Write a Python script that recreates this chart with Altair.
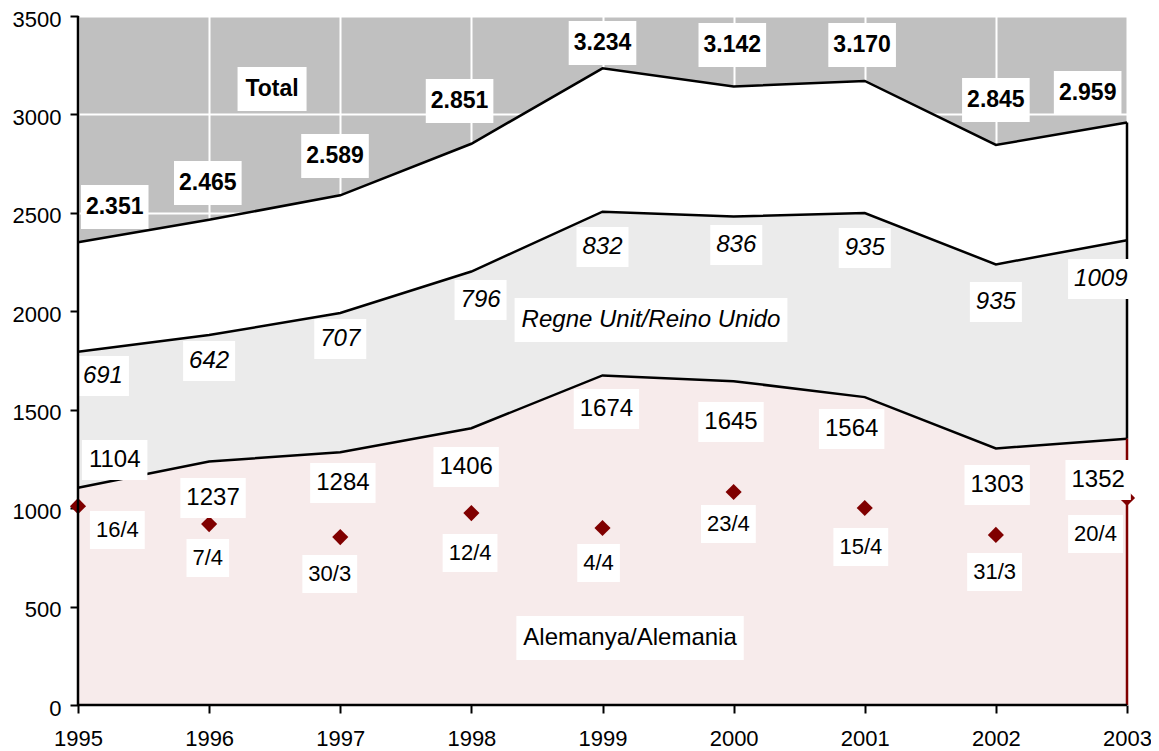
import altair as alt
import pandas as pd

# ---------------- data ----------------
years = [1995, 1996, 1997, 1998, 1999, 2000, 2001, 2002, 2003]
germany = [1104, 1237, 1284, 1406, 1674, 1645, 1564, 1303, 1352]
uk = [691, 642, 707, 796, 832, 836, 935, 935, 1009]
total = [2351, 2465, 2589, 2851, 3234, 3142, 3170, 2845, 2959]
easter_dates = ["16/4", "7/4", "30/3", "12/4", "4/4", "23/4", "15/4", "31/3", "20/4"]
easter_marker = [1010, 919, 853, 975, 899, 1082, 1001, 864, 1052]

total_text = ["2.351", "2.465", "2.589", "2.851", "3.234", "3.142", "3.170", "2.845", "2.959"]

# label anchors (data coordinates: fractional year, value)
total_lab_x = [1995.28, 1995.99, 1996.96, 1997.91, 1999.0, 1999.99, 2000.98, 2002.0, 2002.70]
total_lab_y = [2530, 2652, 2789, 3068, 3363, 3353, 3353, 3073, 3109]
uk_lab_x = [1995.19, 1996.0, 1997.0, 1998.07, 1999.0, 2000.02, 2001.0, 2002.0, 2002.80]
uk_lab_y = [1671, 1747, 1859, 2057, 2327, 2337, 2321, 2047, 2164]
de_lab_x = [1995.28, 1996.03, 1997.02, 1997.96, 1999.03, 1999.98, 2000.90, 2002.01, 2002.78]
de_lab_y = [1245, 1052, 1128, 1209, 1504, 1438, 1402, 1118, 1143]
date_lab_x = [1995.30, 1995.99, 1996.92, 1997.99, 1998.97, 1999.96, 2000.97, 2001.99, 2002.76]
date_lab_y = [889, 747, 665, 772, 721, 919, 803, 676, 869]
series_names = ["Total", "Regne Unit/Reino Unido", "Alemanya/Alemania"]
series_lab_x = [1996.48, 1999.37, 1999.21]
series_lab_y = [3129, 1956, 340]

FONT = "Liberation Sans"

# ------------- helpers for white label boxes -------------
REG = {c: 0.556 for c in "0123456789"}
REG.update({".": 0.278, "/": 0.278, " ": 0.278, "A": 0.667, "R": 0.722, "U": 0.722,
            "T": 0.611, "a": 0.556, "d": 0.556, "e": 0.556, "g": 0.556, "i": 0.222,
            "l": 0.222, "m": 0.833, "n": 0.556, "o": 0.556, "t": 0.278, "y": 0.5})
BOLD = dict(REG)
BOLD.update({"o": 0.611, "t": 0.333, "l": 0.278})


def text_width(s, size, bold=False):
    tbl = BOLD if bold else REG
    return sum(tbl.get(c, 0.556) for c in s) * size


def box_path(s, size, bold=False, pad=6, h=40):
    w = text_width(s, size, bold) / 2 + pad
    hh = h / 2
    return f"M{-w:.1f},{-hh:.1f}H{w:.1f}V{hh:.1f}H{-w:.1f}Z"


rows = []
for t, x, y in zip(total_text, total_lab_x, total_lab_y):
    rows.append(dict(text=t, x=x, y=y, grp="total", box=box_path(t, 23, True, 5, 44)))
for t, x, y in zip(uk, uk_lab_x, uk_lab_y):
    rows.append(dict(text=str(t), x=x, y=y, grp="uk", box=box_path(str(t), 24, False, 6, 40)))
for t, x, y in zip(germany, de_lab_x, de_lab_y):
    rows.append(dict(text=str(t), x=x, y=y, grp="de", box=box_path(str(t), 24, False, 6, 40)))
for t, x, y in zip(easter_dates, date_lab_x, date_lab_y):
    rows.append(dict(text=t, x=x, y=y, grp="date", box=box_path(t, 22, False, 6, 38)))
grp_names = ["total", "uk", "de"]
for i, (t, x, y) in enumerate(zip(series_names, series_lab_x, series_lab_y)):
    rows.append(dict(text=t, x=x, y=y, grp=grp_names[i],
                     box=box_path(t, 23 if i == 0 else 24, i == 0, 7, 44)))
labels = pd.DataFrame(rows)

df = pd.DataFrame({"year": years, "germany": germany, "uk": uk, "total": total,
                   "easter": easter_marker})
df["uk_top"] = df["germany"] + df["uk"]
df["zero"] = 0

# ---------------- encodings ----------------
xs = alt.Scale(domain=[1995, 2003], nice=False, zero=False)
ys = alt.Scale(domain=[0, 3500], nice=False)
x_axis = alt.Axis(values=years, format="d", title=None, domain=False, grid=True,
                  labelPadding=15, labelFlush=False)
y_axis = alt.Axis(values=list(range(0, 3501, 500)), format="d", title=None, domain=False,
                  grid=True, labelPadding=9, labelFlush=False, labelOffset=3)


def X(field):
    return alt.X(field, type="quantitative", scale=xs, axis=x_axis, title=None)


def Y(field):
    return alt.Y(field, type="quantitative", scale=ys, axis=y_axis, title=None)


base = alt.Chart(df)

area_total = base.mark_area(color="white", opacity=1).encode(x=X("year"), y=Y("total"))
area_uk = base.mark_area(color="#ebebeb", opacity=1).encode(x=X("year"), y=Y("uk_top"))
area_de = base.mark_area(color="#f7ebeb", opacity=1).encode(x=X("year"), y=Y("germany"))

line_kw = dict(color="black", strokeWidth=2.5)
line_total = base.mark_line(**line_kw).encode(x=X("year"), y=Y("total"))
line_uk = base.mark_line(**line_kw).encode(x=X("year"), y=Y("uk_top"))
line_de = base.mark_line(**line_kw).encode(x=X("year"), y=Y("germany"))

last = base.transform_filter(alt.datum.year == 2003)
edge_black = last.mark_rule(color="black", strokeWidth=2.5).encode(
    x=X("year"), y=Y("germany"), y2="total:Q")
edge_red = last.mark_rule(color="#800000", strokeWidth=2.5).encode(
    x=X("year"), y=Y("zero"), y2="germany:Q")

first = base.transform_filter(alt.datum.year == 1995)
yaxis_line = first.mark_rule(color="black", strokeWidth=2.5).encode(
    x=X("year"), y=Y("zero"), y2=alt.datum(3500))
xaxis_line = first.mark_rule(color="black", strokeWidth=2.5).encode(
    x=X("year"), x2=alt.datum(2003), y=Y("zero"))

points = base.mark_point(shape="diamond", filled=True, color="#800000", size=260,
                         opacity=1).encode(x=X("year"), y=Y("easter"))

lab = alt.Chart(labels)
boxes = lab.mark_point(filled=True, color="white", opacity=1, size=4, strokeWidth=0).encode(
    x=X("x"), y=Y("y"),
    shape=alt.Shape("box:N", scale=None, legend=None),
)


def text_layer(grp, **kw):
    return lab.transform_filter(alt.datum.grp == grp).mark_text(
        font=FONT, align="center", baseline="middle", color="black", **kw).encode(
        x=X("x"), y=Y("y"), text="text:N")


txt_total = text_layer("total", fontSize=23, fontWeight="bold")
txt_uk = text_layer("uk", fontSize=24, fontStyle="italic")
txt_de = text_layer("de", fontSize=24)
txt_date = text_layer("date", fontSize=22)

chart = alt.layer(
    area_total, area_uk, area_de, line_total, line_uk, line_de, edge_black, edge_red,
    points, boxes, txt_total, txt_uk, txt_de, txt_date, yaxis_line, xaxis_line,
).properties(
    width=1049, height=689,
    autosize=alt.AutoSizeParams(type="none"),
    padding={"left": 70, "top": 8, "right": 24, "bottom": 44},
).configure_view(
    fill="#c0c0c0", stroke=None,
).configure_axis(
    gridColor="white", gridWidth=2, gridOpacity=1,
    labelFont=FONT, labelFontSize=22, labelColor="black",
    tickColor="black", tickSize=8, tickWidth=2,
)

chart.save("out.html", embed_options={"renderer": "svg", "actions": False})
